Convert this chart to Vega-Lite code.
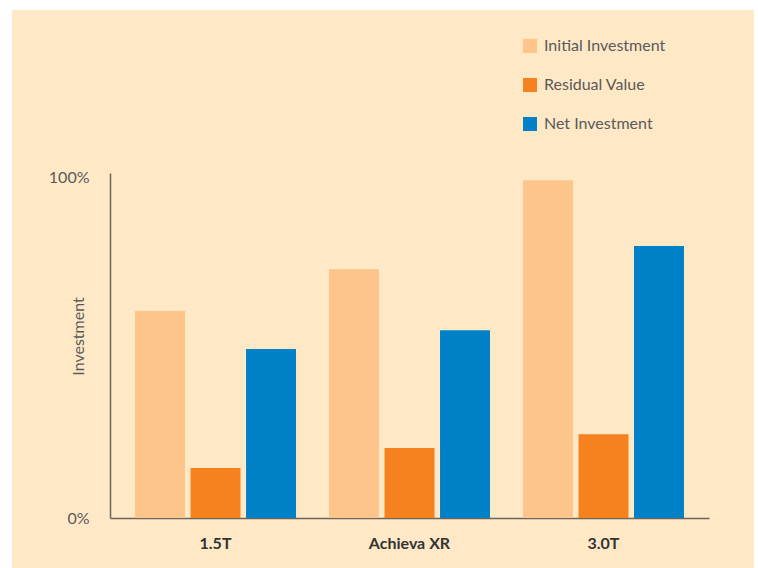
{
  "$schema": "https://vega.github.io/schema/vega-lite/v6.json",
  "width": 742,
  "height": 558,
  "autosize": {"type": "none"},
  "padding": {"left": 12, "top": 10, "right": 4, "bottom": 0},
  "background": "white",
  "config": {
    "view": {"fill": "#FEE8C6", "stroke": null},
    "font": "Lato"
  },
  "data": {
    "values": [
      {"system": "1.5T", "series": "Initial Investment", "value": 60.7},
      {"system": "1.5T", "series": "Residual Value", "value": 14.7},
      {"system": "1.5T", "series": "Net Investment", "value": 49.6},
      {"system": "Achieva XR", "series": "Initial Investment", "value": 73.0},
      {"system": "Achieva XR", "series": "Residual Value", "value": 20.5},
      {"system": "Achieva XR", "series": "Net Investment", "value": 55.1},
      {"system": "3.0T", "series": "Initial Investment", "value": 99.1},
      {"system": "3.0T", "series": "Residual Value", "value": 24.6},
      {"system": "3.0T", "series": "Net Investment", "value": 79.8}
    ]
  },
  "mark": {"type": "bar"},
  "encoding": {
    "x": {
      "field": "system",
      "type": "nominal",
      "sort": ["1.5T", "Achieva XR", "3.0T"],
      "scale": {"range": [98, 697], "paddingInner": 0.17, "paddingOuter": 0.129},
      "axis": {
        "title": null,
        "orient": "bottom",
        "offset": -50,
        "ticks": false,
        "labelAngle": 0,
        "labelFont": "Lato",
        "labelFontSize": 16,
        "labelFontWeight": "bold",
        "labelColor": "#333333",
        "labelPadding": 17,
        "domainColor": "#6d645c",
        "domainWidth": 1.5
      }
    },
    "xOffset": {
      "field": "series",
      "type": "nominal",
      "sort": ["Initial Investment", "Residual Value", "Net Investment"],
      "scale": {"paddingInner": 0.1, "paddingOuter": 0}
    },
    "y": {
      "field": "value",
      "type": "quantitative",
      "scale": {"domain": [0, 101.2], "range": [508, 163], "nice": false},
      "axis": {
        "title": "Investment",
        "orient": "left",
        "offset": -98,
        "values": [0, 100],
        "labelExpr": "datum.value + '%'",
        "ticks": false,
        "grid": false,
        "labelFont": "Lato",
        "labelFontSize": 16,
        "labelColor": "#5a5a5a",
        "labelPadding": 21,
        "labelBaseline": "middle",
        "domainColor": "#6d645c",
        "domainWidth": 1.5,
        "titleFont": "Lato",
        "titleFontSize": 16,
        "titleFontWeight": "normal",
        "titleColor": "#5a5a5a",
        "titleAngle": 270,
        "titleX": -32,
        "titleY": 326,
        "titleAlign": "center",
        "titleBaseline": "middle"
      }
    },
    "color": {
      "field": "series",
      "type": "nominal",
      "sort": ["Initial Investment", "Residual Value", "Net Investment"],
      "scale": {
        "domain": ["Initial Investment", "Residual Value", "Net Investment"],
        "range": ["#FDC589", "#F5821F", "#0080C6"]
      },
      "legend": {
        "title": null,
        "orient": "none",
        "legendX": 510,
        "legendY": 28,
        "symbolType": "square",
        "symbolSize": 196,
        "symbolStrokeWidth": 0,
        "symbolOpacity": 1,
        "labelFont": "Lato",
        "labelFontSize": 16,
        "labelColor": "#5a5a5a",
        "labelOffset": 6,
        "rowPadding": 23
      }
    }
  }
}
